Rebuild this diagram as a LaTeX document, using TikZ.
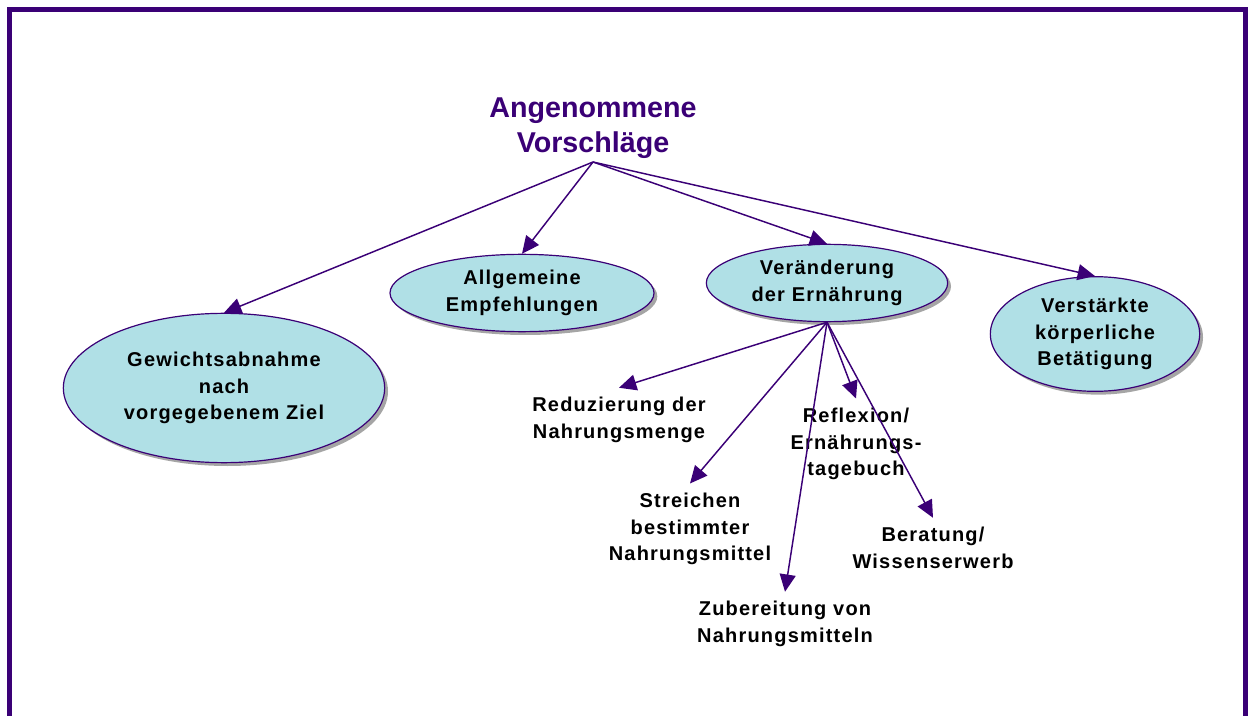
\documentclass[tikz,border=0pt]{standalone}
\usepackage{fontspec}
\setmainfont{Liberation Sans}
\newfontfamily\ideafont{Liberation Sans}[LetterSpace=6]
\usepackage{tikz}
\usetikzlibrary{arrows.meta,shapes.geometric,shadows,positioning}
\definecolor{darkviolet}{RGB}{58,0,118}
\definecolor{bubble}{RGB}{176,224,230}

\tikzset{
  topic/.style={ellipse, draw=darkviolet, line width=0.9pt, fill=bubble, inner sep=0pt, align=center,
    font=\ideafont\bfseries\fontsize{15}{19.9}\selectfont,
    drop shadow={shadow xshift=2.5pt, shadow yshift=-2.5pt, fill=black!70}},
  idea/.style={align=center, inner sep=7pt, font=\ideafont\bfseries\fontsize{15}{19.9}\selectfont},
  link/.style={draw=darkviolet, line width=1.1pt, -{Triangle[length=13pt,width=12pt]}}
}

\begin{document}
\begin{tikzpicture}[x=0.75pt,y=-0.75pt]
\useasboundingbox (0,0) rectangle (1256,716);
\draw [darkviolet, line width=3.75pt] (9.5,720) -- (9.5,10) -- (1245.5,10) -- (1245.5,720);

% title
\node (title) at (593,128) [align=center, text=darkviolet, font=\bfseries\fontsize{21.5}{26}\selectfont] {Angenommene\\Vorschläge};
\coordinate (root) at (593,162);

% first level
\node (weight) at (224,388) [topic, minimum width=241pt, minimum height=112pt] {Gewichtsabnahme\\nach\\vorgegebenem Ziel};
\node (general) at (522,293) [topic, minimum width=198pt, minimum height=58pt] {Allgemeine\\Empfehlungen};
\node (diet) at (827,283) [topic, minimum width=181pt, minimum height=58pt] {Veränderung\\der Ernährung};
\node (sport) at (1095,334) [topic, minimum width=157pt, minimum height=86pt] {Verstärkte\\körperliche\\Betätigung};

% second level
\node (amount) at (619,420) [idea] {Reduzierung der\\Nahrungsmenge};
\node (avoid) at (690,529) [idea] {Streichen\\bestimmter\\Nahrungsmittel};
\node (cook) at (785,624) [idea] {Zubereitung von\\Nahrungsmitteln};
\node (diary) at (856,444) [idea] {Reflexion/\\Ernährungs-\\tagebuch};
\node (advice) at (933,548) [idea] {Beratung/\\Wissenserwerb};

\draw [link] (root) -- (weight.north);
\draw [link] (root) -- (general.north);
\draw [link] (root) -- (diet.north);
\draw [link] (root) -- (sport.north);

\draw [link] (diet.south) -- (amount.north);
\draw [link] (diet.south) -- (avoid.north);
\draw [link] (diet.south) -- (cook.north);
\draw [link] (diet.south) -- (diary.north);
\draw [link] (diet.south) -- (advice.north);
\end{tikzpicture}
\end{document}
